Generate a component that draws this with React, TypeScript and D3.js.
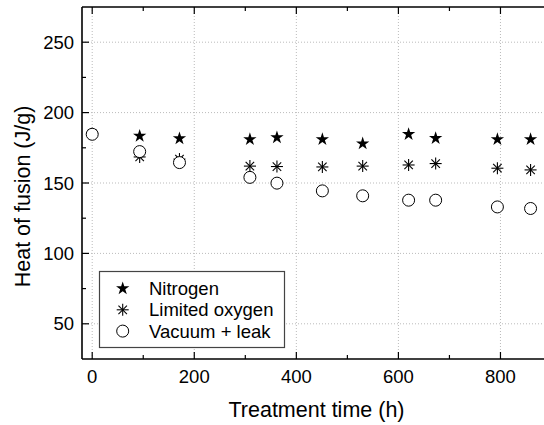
import React from "react";
import * as d3 from "d3";

const times = [0, 93, 171, 309, 362, 451, 530, 620, 673, 794, 859];
const nitrogenTimes = [93, 171, 309, 362, 451, 530, 620, 673, 794, 859];
const nitrogen = [183.4, 181.6, 181, 182.3, 181, 178, 184.6, 181.8, 181, 181];
const limitedOxygen = [185, 168.5, 167, 162, 161.7, 161.4, 162, 162.8, 163.8, 160.5, 159.3];
const vacuumLeak = [184.6, 172.3, 164.5, 154, 149.9, 144.4, 140.9, 137.8, 137.8, 133, 131.9];
const xMajor = [0, 200, 400, 600, 800];
const xMinor = [100, 300, 500, 700];
const yMajor = [50, 100, 150, 200, 250];
const yMinor = [75, 125, 175, 225];
const legendItems = ["Nitrogen", "Limited oxygen", "Vacuum + leak"];

const FONT = "'Liberation Sans', Arial, sans-serif";

function Asterisk({ x, y, r }: { x: number; y: number; r: number }) {
  const a = r * Math.cos(Math.PI / 4);
  return (
    <g stroke="#000" strokeWidth={1.1} transform={`translate(${x},${y})`}>
      <line x1={0} y1={-r} x2={0} y2={r} />
      <line x1={-r} y1={0} x2={r} y2={0} />
      <line x1={-a} y1={-a} x2={a} y2={a} />
      <line x1={-a} y1={a} x2={a} y2={-a} />
    </g>
  );
}

export default function App() {
  const W = 544, H = 425;
  const left = 82, top = 7, bottom = 359;
  const x = d3.scaleLinear().domain([-20, 900]).range([left, 551.5]);
  const y = d3.scaleLinear().domain([25, 275]).range([bottom, top]);
  const star = d3.symbol().type(d3.symbolStar).size(55)()!;
  const circ = d3.symbol().type(d3.symbolCircle).size(Math.PI * 36)()!;

  return (
    <svg width={W} height={H} style={{ position: "absolute", left: 0, top: 0, background: "#fff" }} fontFamily={FONT}>
      <rect width={W} height={H} fill="#fff" />
      {/* grid */}
      <g stroke="#bbb" strokeWidth={1} strokeDasharray="1,2">
        {xMajor.map((v) => (
          <line key={"gx" + v} x1={x(v)} x2={x(v)} y1={top} y2={bottom} />
        ))}
        {yMajor.map((v) => (
          <line key={"gy" + v} x1={left} x2={W} y1={y(v)} y2={y(v)} />
        ))}
      </g>
      {/* ticks */}
      <g stroke="#000" strokeWidth={1.2}>
        {xMajor.map((v) => (
          <g key={"tx" + v}>
            <line x1={x(v)} x2={x(v)} y1={bottom} y2={bottom - 7} />
            <line x1={x(v)} x2={x(v)} y1={top} y2={top + 7} />
          </g>
        ))}
        {xMinor.map((v) => (
          <g key={"mx" + v}>
            <line x1={x(v)} x2={x(v)} y1={bottom} y2={bottom - 4} />
            <line x1={x(v)} x2={x(v)} y1={top} y2={top + 4} />
          </g>
        ))}
        {yMajor.map((v) => (
          <line key={"ty" + v} x1={left} x2={left + 7} y1={y(v)} y2={y(v)} />
        ))}
        {yMinor.map((v) => (
          <line key={"my" + v} x1={left} x2={left + 4} y1={y(v)} y2={y(v)} />
        ))}
      </g>
      {/* axes */}
      <g stroke="#000" strokeWidth={1.6} fill="none">
        <line x1={left} x2={W} y1={bottom} y2={bottom} />
        <line x1={left} x2={W} y1={top} y2={top} />
        <line x1={left} x2={left} y1={top} y2={bottom} />
      </g>
      {/* tick labels */}
      <g fontSize={18.5} fill="#000">
        {xMajor.map((v) => (
          <text key={"lx" + v} x={x(v)} y={383} textAnchor="middle">{v}</text>
        ))}
        {yMajor.map((v) => (
          <text key={"ly" + v} x={74} y={y(v) + 6.5} textAnchor="end">{v}</text>
        ))}
      </g>
      <text x={316.5} y={416.5} fontSize={21.5} textAnchor="middle">Treatment time (h)</text>
      <text transform={`translate(29.5,196.5) rotate(-90)`} fontSize={21.5} textAnchor="middle">Heat of fusion (J/g)</text>
      {/* data */}
      {nitrogen.map((v, i) => (
        <path key={"n" + i} d={star} transform={`translate(${x(nitrogenTimes[i])},${y(v)})`} fill="#000" />
      ))}
      {limitedOxygen.map((v, i) => (
        <Asterisk key={"o" + i} x={x(times[i])} y={y(v)} r={6} />
      ))}
      {vacuumLeak.map((v, i) => (
        <path key={"v" + i} d={circ} transform={`translate(${x(times[i])},${y(v)})`} fill="#fff" stroke="#000" strokeWidth={1} />
      ))}
      {/* legend */}
      <rect x={99.5} y={271.5} width={185} height={76} fill="#fff" stroke="#444" strokeWidth={1.2} />
      {legendItems.map((t, i) => {
        const cy = 288.5 + i * 21.3;
        return (
          <g key={t}>
            {i === 0 && <path d={star} transform={`translate(122.7,${cy})`} fill="#000" />}
            {i === 1 && <Asterisk x={122.7} y={cy} r={6} />}
            {i === 2 && <path d={circ} transform={`translate(122.7,${cy})`} fill="#fff" stroke="#000" strokeWidth={1} />}
            <text x={149} y={cy + 6.5} fontSize={18.5}>{t}</text>
          </g>
        );
      })}
    </svg>
  );
}
